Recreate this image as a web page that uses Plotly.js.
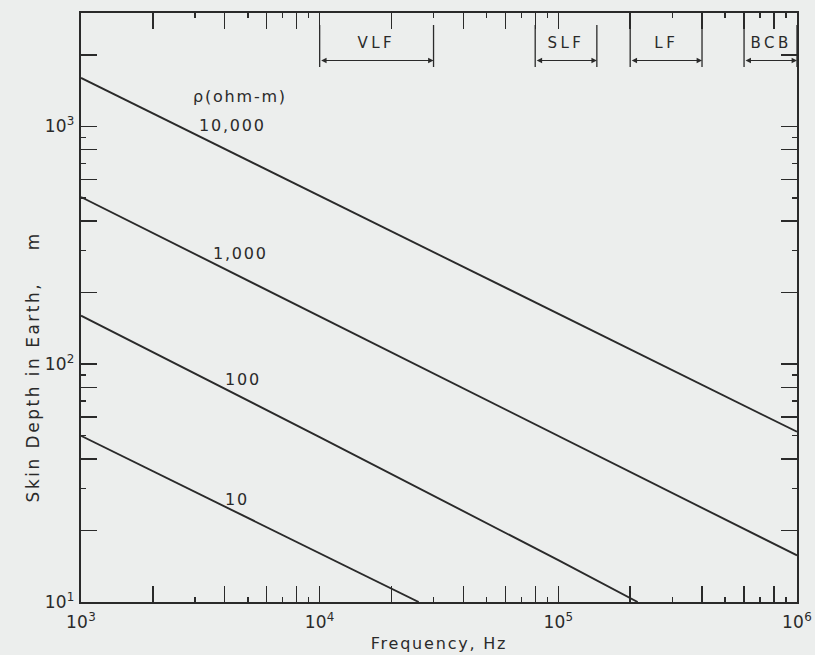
<!DOCTYPE html>
<html>
<head>
<meta charset="utf-8">
<script src="https://cdn.plot.ly/plotly-3.0.1.min.js"></script>
<style>
  html, body { margin: 0; padding: 0; background: #eceeed; }
  #chart { width: 815px; height: 655px; }
  text { letter-spacing: 1.8px; }
  .xtick text, .ytick text { letter-spacing: 0.2px; }
  .ytitle { letter-spacing: 2.5px; }
</style>
</head>
<body>
<div id="chart"></div>
<script>
// ---- data ----
const freqRho10000 = [1e3, 1e4, 1e5, 1e6];
const depthRho10000 = [1600, 510, 162, 52];
const freqRho1000 = [1e3, 1e4, 1e5, 1e6];
const depthRho1000 = [505, 159, 50, 15.7];
const freqRho100 = [1e3, 1e4, 1e5, 2.15e5];
const depthRho100 = [160, 49.4, 15.0, 10];
const freqRho10 = [1e3, 1e4, 2.6e4];
const depthRho10 = [50, 16.0, 10];

const rhoLabels = ['10,000', '1,000', '100', '10'];
const rhoHeader = '\u03C1(ohm-m)';

const bandNames = ['VLF', 'SLF', 'LF', 'BCB'];
const bandStart = [1e4, 8e4, 2e5, 6e5];
const bandEnd = [3e4, 1.45e5, 4e5, 1e6];

const xTickVals = [1e3, 1e4, 1e5, 1e6];
const xTickText = ['10<sup>3</sup>', '10<sup>4</sup>', '10<sup>5</sup>', '10<sup>6</sup>'];
const yTickVals = [1e1, 1e2, 1e3];
const yTickText = ['10<sup>1</sup>', '10<sup>2</sup>', '10<sup>3</sup>'];
const minorEven = [2, 4, 6, 8];
const minorOdd = [3, 5, 7, 9];

// ---- styling ----
const INK = '#2a2a2a';
const FONT = 'DejaVu Sans';
const BG = '#eceeed';

const xDecades = [1e3, 1e4, 1e5];
const yDecades = [1e1, 1e2, 1e3];
const mk = (decs, mult) => decs.flatMap(d => mult.map(m => m * d));

const lineStyle = { color: INK, width: 1.9 };
const traces = [
  { x: freqRho10000, y: depthRho10000, mode: 'lines', line: lineStyle, xaxis: 'x', yaxis: 'y', hoverinfo: 'skip' },
  { x: freqRho1000, y: depthRho1000, mode: 'lines', line: lineStyle, xaxis: 'x2', yaxis: 'y', hoverinfo: 'skip' },
  { x: freqRho100, y: depthRho100, mode: 'lines', line: lineStyle, xaxis: 'x', yaxis: 'y2', hoverinfo: 'skip' },
  { x: freqRho10, y: depthRho10, mode: 'lines', line: lineStyle, xaxis: 'x', yaxis: 'y', hoverinfo: 'skip' }
];

const yTop = Math.log10(3000);

const baseAxis = {
  type: 'log', showgrid: false, zeroline: false,
  ticks: 'inside', tickcolor: INK, mirror: 'allticks'
};

const yTitleText = 'Skin Depth in Earth,\u00a0\u00a0\u00a0\u00a0m' + '\u00a0'.repeat(14) +
  '<span style="color:rgba(0,0,0,0)">.</span>';

const layout = {
  width: 815, height: 655,
  margin: { l: 81, r: 18, t: 13, b: 53 },
  paper_bgcolor: BG, plot_bgcolor: BG,
  showlegend: false,
  font: { family: FONT, color: INK, size: 15 },
  xaxis: Object.assign({}, baseAxis, {
    range: [3, 6], tickmode: 'array', tickvals: xTickVals, ticktext: xTickText,
    ticklen: 16, tickwidth: 1.6, showline: true, linewidth: 2, linecolor: INK,
    tickfont: { family: FONT, size: 17, color: INK }, ticklabelstandoff: 4,
    title: { text: 'Frequency, Hz', font: { family: FONT, size: 16, color: INK }, standoff: 6 },
    minor: { tickmode: 'array', tickvals: mk(xDecades, minorEven), ticks: 'inside', ticklen: 8, tickwidth: 1.4, tickcolor: INK, showgrid: false }
  }),
  xaxis2: Object.assign({}, baseAxis, {
    range: [3, 6], overlaying: 'x', anchor: 'y', side: 'bottom',
    tickmode: 'array', tickvals: mk(xDecades, minorOdd), ticklen: 5, tickwidth: 1.4,
    showticklabels: false, showline: false
  }),
  yaxis: Object.assign({}, baseAxis, {
    range: [1, yTop], tickmode: 'array', tickvals: yTickVals, ticktext: yTickText,
    ticklen: 16, tickwidth: 1.6, showline: true, linewidth: 2, linecolor: INK,
    tickfont: { family: FONT, size: 17, color: INK }, ticklabelstandoff: 1,
    title: { text: yTitleText, font: { family: FONT, size: 17, color: INK }, standoff: 1 },
    minor: { tickmode: 'array', tickvals: mk(yDecades, minorEven), ticks: 'inside', ticklen: 8, tickwidth: 1.4, tickcolor: INK, showgrid: false }
  }),
  yaxis2: Object.assign({}, baseAxis, {
    range: [1, yTop], overlaying: 'y', anchor: 'x', side: 'left',
    tickmode: 'array', tickvals: mk(yDecades, minorOdd), ticklen: 5, tickwidth: 1.4,
    showticklabels: false, showline: false
  }),
  shapes: [],
  annotations: []
};

// band brackets
const brLow = (602 - 67) / 589, brHigh = (602 - 25) / 589;
const arrowY = (602 - 60.5) / 589, bandTextY = (602 - 43.5) / 589;
bandNames.forEach((name, i) => {
  [bandStart[i], bandEnd[i]].forEach(f => {
    layout.shapes.push({ type: 'line', xref: 'x', yref: 'paper', x0: f, x1: f, y0: brLow, y1: brHigh, line: { color: INK, width: 1.3 } });
  });
  layout.annotations.push({
    xref: 'x', yref: 'paper', x: Math.log10(bandEnd[i]), y: arrowY,
    axref: 'x', ayref: 'pixel', ax: Math.log10(bandStart[i]), ay: 0,
    text: '', showarrow: true, arrowside: 'end+start', arrowhead: 2, startarrowhead: 2,
    arrowsize: 0.9, startarrowsize: 0.9, arrowwidth: 1.2, arrowcolor: INK, standoff: 0, startstandoff: 0
  });
  layout.annotations.push({
    xref: 'x', yref: 'paper', x: (Math.log10(bandStart[i]) + Math.log10(bandEnd[i])) / 2, y: bandTextY,
    xanchor: 'center', yanchor: 'middle',
    text: name, showarrow: false, font: { family: FONT, size: 15, color: INK }
  });
});

// line labels
const labelFont = { family: FONT, size: 16, color: INK };
const labelPos = [[3.634, 3.002], [3.667, 2.464], [3.680, 1.934], [3.655, 1.433]];
rhoLabels.forEach((t, i) => {
  layout.annotations.push({ xref: 'x', yref: 'y', x: labelPos[i][0], y: labelPos[i][1], xanchor: 'center', yanchor: 'middle', text: t, showarrow: false, font: labelFont });
});
layout.annotations.push({ xref: 'x', yref: 'y', x: 3.667, y: 3.128, xanchor: 'center', yanchor: 'middle', text: rhoHeader, showarrow: false, font: labelFont });

Plotly.newPlot('chart', traces, layout, { staticPlot: true, displayModeBar: false }).then(gd => {
  gd.querySelectorAll('.annotation-text').forEach(t => {
    if (bandNames.includes(t.textContent)) t.style.letterSpacing = '3.5px';
  });
});
</script>
</body>
</html>
